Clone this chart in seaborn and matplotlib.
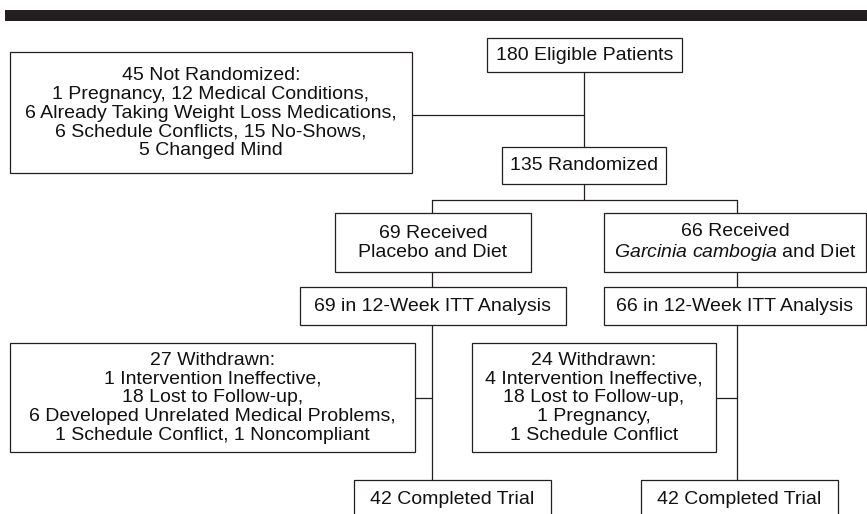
import matplotlib
matplotlib.use("Agg")
import matplotlib.pyplot as plt
from matplotlib.patches import Rectangle
import seaborn as sns
import pandas as pd

# ---- data (texts of the flow chart) ----
eligible = "180 Eligible Patients"
not_randomized = ["45 Not Randomized:", "1 Pregnancy, 12 Medical Conditions,",
                  "6 Already Taking Weight Loss Medications,",
                  "6 Schedule Conflicts, 15 No-Shows,", "5 Changed Mind"]
randomized = "135 Randomized"
arm_received = ["69 Received\nPlacebo and Diet",
                "66 Received\n$\\mathit{Garcinia\\ cambogia}$ and Diet"]
arm_itt = ["69 in 12-Week ITT Analysis", "66 in 12-Week ITT Analysis"]
withdrawn_placebo = ["27 Withdrawn:", "1 Intervention Ineffective,", "18 Lost to Follow-up,",
                     "6 Developed Unrelated Medical Problems,",
                     "1 Schedule Conflict, 1 Noncompliant"]
withdrawn_garcinia = ["24 Withdrawn:", "4 Intervention Ineffective,", "18 Lost to Follow-up,",
                      "1 Pregnancy,", "1 Schedule Conflict"]
completed = ["42 Completed Trial", "42 Completed Trial"]

sns.set_theme(style="white")
plt.rcParams["font.family"] = ["Liberation Sans", "DejaVu Sans"]
plt.rcParams["mathtext.fontset"] = "custom"
plt.rcParams["mathtext.rm"] = "Liberation Sans"
plt.rcParams["mathtext.it"] = "Liberation Sans:italic"

W, H = 867, 514
fig = plt.figure(figsize=(W / 100, H / 100), dpi=100)
ax = fig.add_axes([0, 0, 1, 1])
ax.set_xlim(0, W)
ax.set_ylim(H, 0)
ax.axis("off")

LC = "#231f20"
LW = 0.9
FS = 14.0
LS = 1.13

# header bar
ax.add_patch(Rectangle((5, 10), W - 5, 10.5, color="#231f20", lw=0))

def box(x0, y0, x1, y1, text, fs=FS, yc=None):
    ax.add_patch(Rectangle((x0, y0), x1 - x0, y1 - y0, fill=False, ec=LC, lw=LW, zorder=3))
    ty = (y0 + y1) / 2 + 0.5 if yc is None else yc
    ax.text((x0 + x1) / 2, ty, text, ha="center", va="center",
            fontsize=fs, color="#111111", linespacing=LS, zorder=4)

box(487, 38, 682, 72, eligible)
box(10, 52, 412, 173, "\n".join(not_randomized))
box(502, 147, 666, 184, randomized)
box(335, 213, 531, 272, arm_received[0])
box(604, 213, 866, 272, arm_received[1])
box(300, 287, 566, 325, arm_itt[0])
box(604, 287, 866, 325, arm_itt[1])
box(10, 343, 415, 452, "\n".join(withdrawn_placebo))
box(472, 343, 716, 452, "\n".join(withdrawn_garcinia))
box(354, 480, 551, 530, completed[0], yc=499)
box(641, 480, 838, 530, completed[1], yc=499)

# connectors
segs = [
    (584, 72, 584, 147),
    (412, 115, 584, 115),
    (584, 184, 584, 200),
    (432, 200, 737, 200),
    (432, 200, 432, 213), (432, 272, 432, 287), (432, 325, 432, 480),
    (737, 200, 737, 213), (737, 272, 737, 287), (737, 325, 737, 480),
    (415, 398, 432, 398), (716, 398, 737, 398),
]
rows = []
for i, (x0, y0, x1, y1) in enumerate(segs):
    rows.append({"seg": i, "x": x0, "y": y0})
    rows.append({"seg": i, "x": x1, "y": y1})
df = pd.DataFrame(rows)
sns.lineplot(data=df, x="x", y="y", units="seg", estimator=None, sort=False,
             color=LC, lw=LW, ax=ax, legend=False)
ax.set_xlim(0, W)
ax.set_ylim(H, 0)
ax.axis("off")

fig.savefig("out.png", dpi=100)
